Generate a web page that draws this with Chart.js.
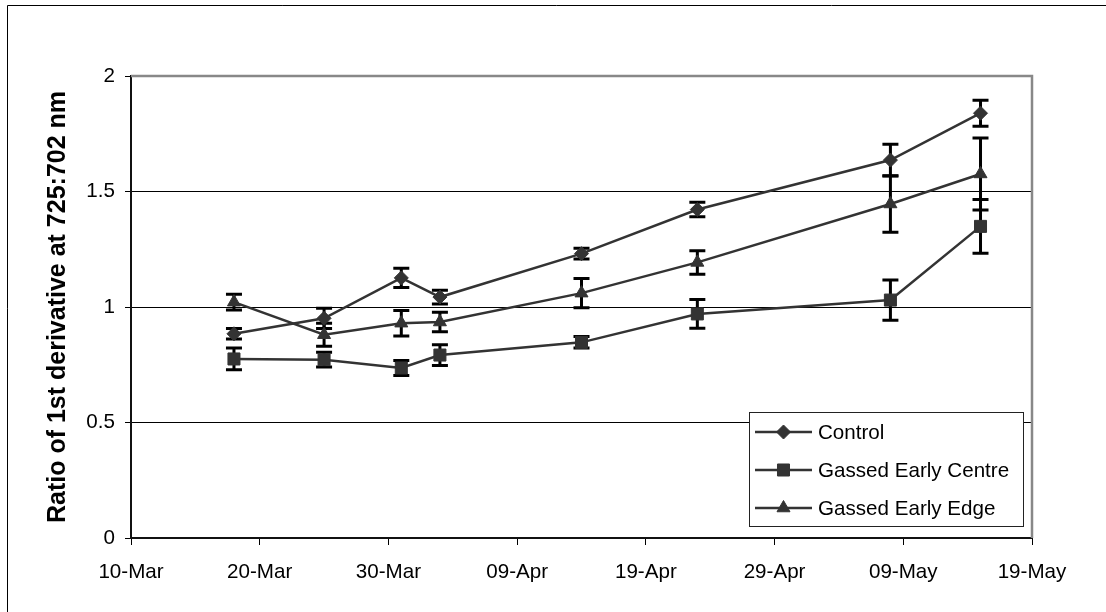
<!DOCTYPE html>
<html>
<head>
<meta charset="utf-8">
<script src="https://cdn.jsdelivr.net/npm/chart.js@4.4.1/dist/chart.umd.min.js"></script>
<style>
html,body{margin:0;padding:0;background:#fff;}
canvas{display:block;}
</style>
</head>
<body>
<canvas id="c" width="1106" height="612"></canvas>
<script>
// ---- data ----
const sampleDates = ['18-Mar','25-Mar','31-Mar','03-Apr','14-Apr','23-Apr','08-May','15-May'];
const seriesNames = ['Control','Gassed Early Centre','Gassed Early Edge'];
const controlValues = [0.884, 0.951, 1.126, 1.043, 1.231, 1.422, 1.636, 1.839];
const controlErrors = [0.023, 0.044, 0.042, 0.030, 0.023, 0.031, 0.069, 0.056];
const centreValues  = [0.775, 0.772, 0.736, 0.792, 0.847, 0.970, 1.030, 1.349];
const centreErrors  = [0.047, 0.032, 0.032, 0.045, 0.025, 0.062, 0.087, 0.116];
const edgeValues    = [1.021, 0.880, 0.930, 0.935, 1.060, 1.193, 1.446, 1.576];
const edgeErrors    = [0.034, 0.050, 0.055, 0.042, 0.063, 0.051, 0.122, 0.156];
const xTickLabels = ['10-Mar','20-Mar','30-Mar','09-Apr','19-Apr','29-Apr','09-May','19-May'];
const yTickValues = [0, 0.5, 1, 1.5, 2];
const yAxisTitle = 'Ratio of 1st derivative at 725:702 nm';

// ---- helpers ----
const MONTHS = {Jan:0,Feb:1,Mar:2,Apr:3,May:4,Jun:5,Jul:6,Aug:7,Sep:8,Oct:9,Nov:10,Dec:11};
function dayNumber(s){
  const parts = s.split('-');
  return Math.round(Date.UTC(2001, MONTHS[parts[1]], +parts[0]) / 86400000);
}
const origin = dayNumber(xTickLabels[0]);
const xPositions = sampleDates.map(s => dayNumber(s) - origin);
const tickPositions = xTickLabels.map(s => dayNumber(s) - origin);

function toPoints(vals){ return vals.map((v,i) => ({x: xPositions[i], y: v})); }

const FONT = "'Liberation Sans', Arial, sans-serif";
const FS = 20.6;
const LINE = '#333333';
const styles = ['rectRot','rect','triangle'];
const radii = [7, 8.5, 7.5];

function makeDataset(name, vals, errs, idx){
  return {
    label: name,
    data: toPoints(vals),
    errors: errs,
    borderColor: LINE,
    backgroundColor: LINE,
    borderWidth: 2.5,
    tension: 0,
    pointStyle: styles[idx],
    pointRadius: radii[idx],
    pointHoverRadius: radii[idx],
    pointBackgroundColor: LINE,
    pointBorderColor: LINE,
    pointBorderWidth: 1
  };
}

const datasets = [
  makeDataset(seriesNames[0], controlValues, controlErrors, 0),
  makeDataset(seriesNames[1], centreValues, centreErrors, 1),
  makeDataset(seriesNames[2], edgeValues, edgeErrors, 2)
];

// ---- plugins ----
const whiteBg = {
  id: 'whiteBg',
  beforeDraw(chart){
    const ctx = chart.ctx;
    ctx.save(); ctx.fillStyle = '#fff'; ctx.fillRect(0,0,chart.width,chart.height); ctx.restore();
  }
};

const plotFrame = {
  id: 'plotFrame',
  beforeDatasetsDraw(chart){
    const {ctx, chartArea: a} = chart;
    ctx.save();
    ctx.strokeStyle = '#888888';
    ctx.lineWidth = 2.5;
    ctx.beginPath();
    ctx.moveTo(a.left, a.top);
    ctx.lineTo(a.right, a.top);
    ctx.lineTo(a.right, a.bottom);
    ctx.stroke();
    ctx.restore();
  }
};

const errorBars = {
  id: 'errorBars',
  beforeDatasetsDraw(chart){
    const {ctx, scales: {x, y}} = chart;
    ctx.save();
    ctx.strokeStyle = '#000';
    ctx.lineWidth = 3;
    chart.data.datasets.forEach(ds => {
      ds.data.forEach((p, i) => {
        const e = ds.errors[i];
        const px = x.getPixelForValue(p.x);
        const yt = y.getPixelForValue(p.y + e);
        const yb = y.getPixelForValue(p.y - e);
        ctx.beginPath();
        ctx.moveTo(px, yt); ctx.lineTo(px, yb);
        ctx.moveTo(px - 8, yt); ctx.lineTo(px + 8, yt);
        ctx.moveTo(px - 8, yb); ctx.lineTo(px + 8, yb);
        ctx.stroke();
      });
    });
    ctx.restore();
  }
};

function drawMarker(ctx, style, r, x, y){
  ctx.beginPath();
  if (style === 'rectRot'){
    ctx.moveTo(x - r, y); ctx.lineTo(x, y - r); ctx.lineTo(x + r, y); ctx.lineTo(x, y + r);
  } else if (style === 'rect'){
    const s = r * Math.SQRT1_2;
    ctx.rect(x - s, y - s, 2 * s, 2 * s);
  } else {
    ctx.moveTo(x, y - r);
    ctx.lineTo(x + 0.866 * r, y + 0.5 * r);
    ctx.lineTo(x - 0.866 * r, y + 0.5 * r);
  }
  ctx.closePath();
  ctx.fill();
  ctx.stroke();
}

const boxLegend = {
  id: 'boxLegend',
  afterDraw(chart){
    const ctx = chart.ctx;
    const bx = 749.5, by = 412.5, bw = 274, bh = 114;
    ctx.save();
    ctx.fillStyle = '#fff';
    ctx.fillRect(bx, by, bw, bh);
    ctx.strokeStyle = '#222';
    ctx.lineWidth = 1;
    ctx.strokeRect(bx, by, bw, bh);
    const rows = [432, 470, 508];
    chart.data.datasets.forEach((ds, i) => {
      const yy = rows[i];
      ctx.strokeStyle = ds.borderColor;
      ctx.lineWidth = 2.5;
      ctx.beginPath(); ctx.moveTo(755, yy); ctx.lineTo(812, yy); ctx.stroke();
      ctx.fillStyle = ds.pointBackgroundColor;
      ctx.lineWidth = 1;
      drawMarker(ctx, ds.pointStyle, ds.pointRadius, 783.5, yy);
      ctx.fillStyle = '#000';
      ctx.font = FS + 'px ' + FONT;
      ctx.textBaseline = 'middle';
      ctx.textAlign = 'left';
      ctx.fillText(ds.label, 818, yy + 1);
    });
    ctx.restore();
  }
};

const outerFrame = {
  id: 'outerFrame',
  afterDraw(chart){
    const ctx = chart.ctx;
    ctx.save();
    ctx.strokeStyle = '#000';
    ctx.lineWidth = 1;
    ctx.beginPath();
    ctx.moveTo(7.5, chart.height); ctx.lineTo(7.5, 5.5); ctx.lineTo(chart.width, 5.5);
    ctx.stroke();
    ctx.restore();
  }
};

new Chart(document.getElementById('c'), {
  type: 'line',
  data: { datasets },
  plugins: [whiteBg, plotFrame, errorBars, boxLegend, outerFrame],
  options: {
    responsive: false,
    animation: false,
    devicePixelRatio: 1,
    layout: { padding: { top: 76, right: 74, bottom: 0, left: 0 } },
    plugins: { legend: { display: false }, tooltip: { enabled: false } },
    scales: {
      x: {
        type: 'linear',
        min: tickPositions[0],
        max: tickPositions[tickPositions.length - 1],
        afterFit(s){ s.height = 74; },
        afterBuildTicks(s){ s.ticks = tickPositions.map(v => ({value: v})); },
        grid: { drawOnChartArea: false, drawTicks: true, tickLength: 7, color: '#000', tickColor: '#000' },
        border: { display: true, color: '#111', width: 2 },
        ticks: {
          autoSkip: false, maxRotation: 0, padding: 15,
          color: '#000',
          font: { family: FONT, size: FS },
          callback(v){ const k = tickPositions.indexOf(v); return k >= 0 ? xTickLabels[k] : ''; }
        }
      },
      y: {
        min: yTickValues[0],
        max: yTickValues[yTickValues.length - 1],
        afterFit(s){ s.width = 131; },
        afterBuildTicks(s){ s.ticks = yTickValues.map(v => ({value: v})); },
        grid: { color: '#000', lineWidth: 1, tickLength: 6, tickColor: '#000' },
        border: { display: true, color: '#111', width: 2 },
        ticks: {
          padding: 10,
          color: '#000',
          font: { family: FONT, size: FS },
          callback(v){ return String(v); }
        },
        title: {
          display: true,
          text: yAxisTitle,
          color: '#000',
          font: { family: FONT, size: 25, weight: 'bold' },
          padding: { top: 43, bottom: 0 }
        }
      }
    }
  }
});
</script>
</body>
</html>
